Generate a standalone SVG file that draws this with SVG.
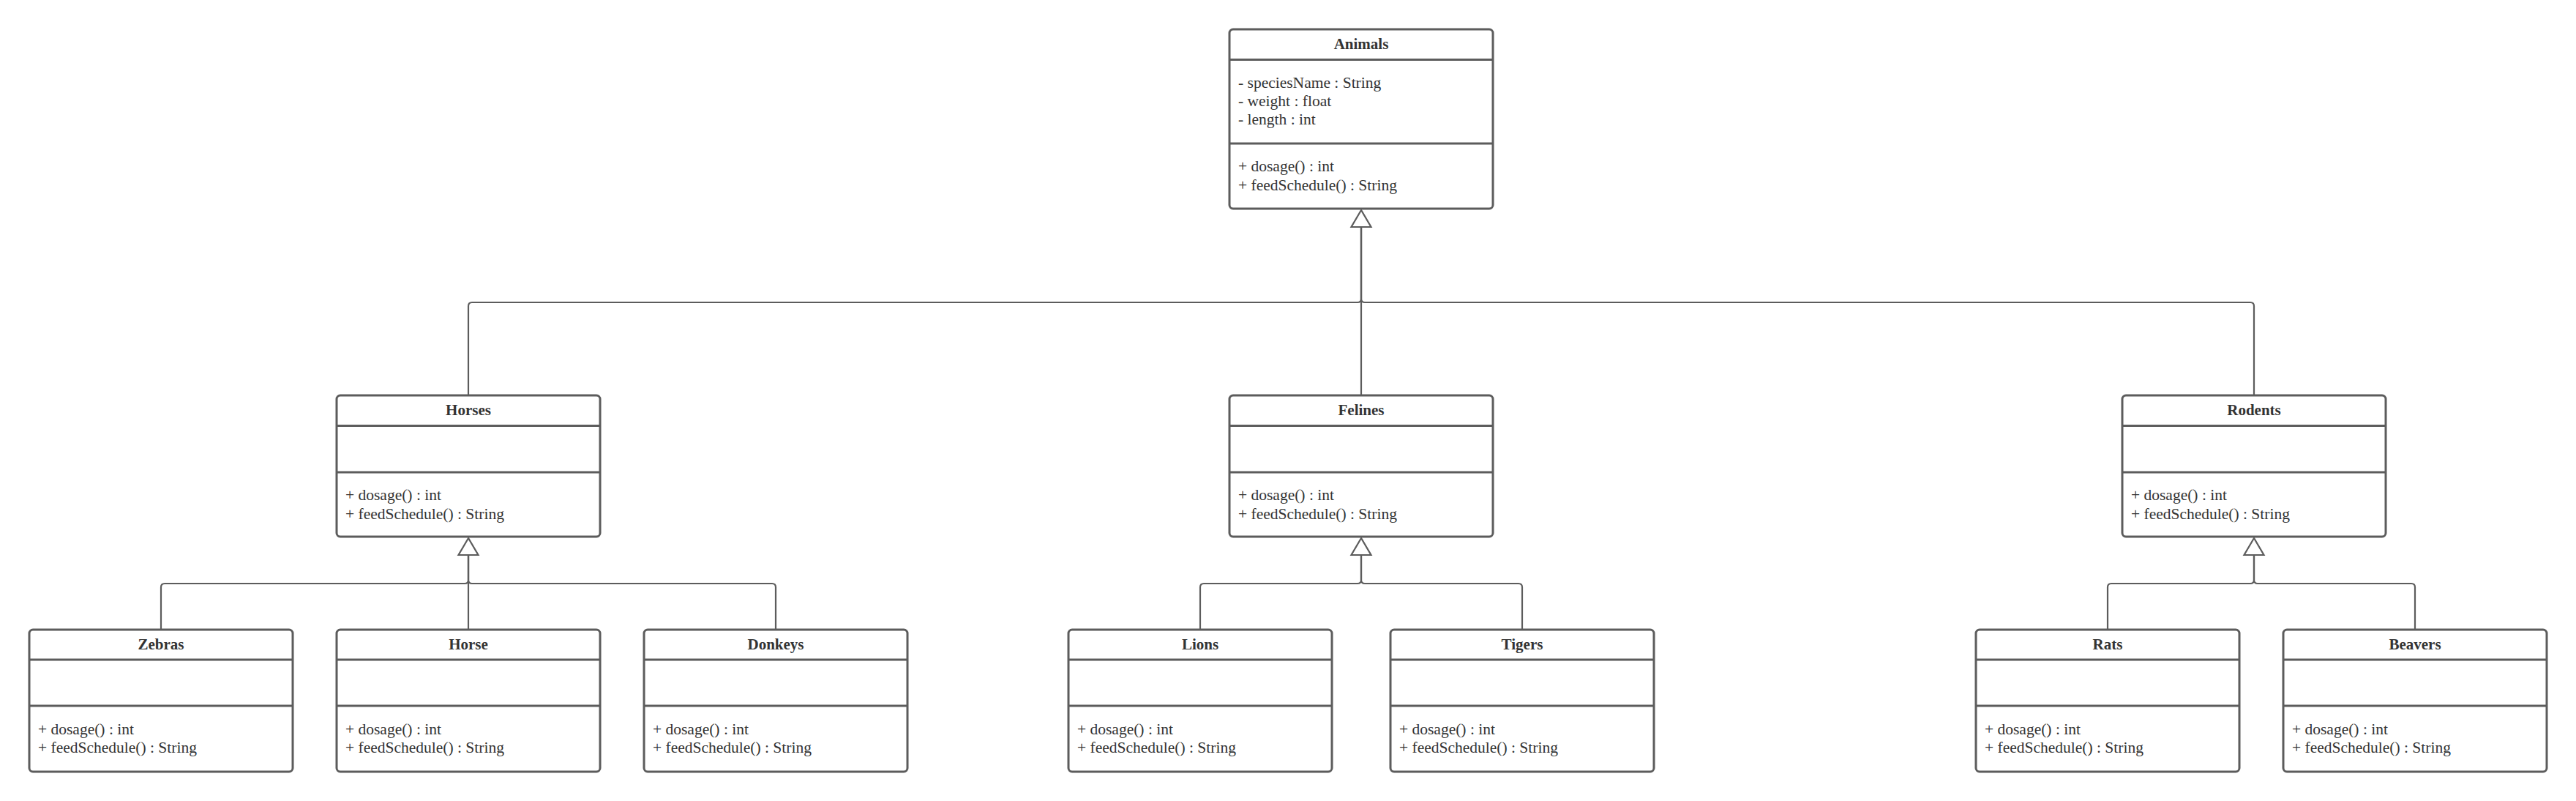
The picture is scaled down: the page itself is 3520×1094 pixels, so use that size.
<svg xmlns="http://www.w3.org/2000/svg" width="3520" height="1094" viewBox="0 0 3520 1094">
<style>
.box{fill:#fff;stroke:#5c5c5c;stroke-width:3}
.div{stroke:#5c5c5c;stroke-width:3}
.t{font-family:"Liberation Serif","DejaVu Serif",serif;font-size:21.5px;fill:#333}
.h{font-family:"Liberation Serif","DejaVu Serif",serif;font-size:21px;font-weight:bold;fill:#333;text-anchor:middle}
.c{fill:none;stroke:#5c5c5c;stroke-width:2.2}
.tri{fill:#fff;stroke:#5c5c5c;stroke-width:2.2;stroke-linejoin:miter}
</style>
<rect width="3520" height="1094" fill="#fff"/>
<g id="connectors">
<path class="c" d="M1860,540 V310"/>
<path class="c" d="M640,540 V418 Q640,413 645,413 H1855 Q1860,413 1860,408 V310"/>
<path class="c" d="M3080,540 V418 Q3080,413 3075,413 H1865 Q1860,413 1860,408 V310"/>
<polygon class="tri" points="1860,287 1846.5,310 1873.5,310"/>
<path class="c" d="M640,860 V758"/>
<path class="c" d="M220,860 V802 Q220,797 225,797 H635 Q640,797 640,792 V758"/>
<path class="c" d="M1060,860 V802 Q1060,797 1055,797 H645 Q640,797 640,792 V758"/>
<polygon class="tri" points="640,735 626.5,758 653.5,758"/>
<path class="c" d="M1640,860 V802 Q1640,797 1645,797 H1855 Q1860,797 1860,792 V758"/>
<path class="c" d="M2080,860 V802 Q2080,797 2075,797 H1865 Q1860,797 1860,792 V758"/>
<polygon class="tri" points="1860,735 1846.5,758 1873.5,758"/>
<path class="c" d="M2880,860 V802 Q2880,797 2885,797 H3075 Q3080,797 3080,792 V758"/>
<path class="c" d="M3300,860 V802 Q3300,797 3295,797 H3085 Q3080,797 3080,792 V758"/>
<polygon class="tri" points="3080,735 3066.5,758 3093.5,758"/>
</g>
<g id="animals">
<rect class="box" x="1680" y="40" width="360" height="245" rx="5"/>
<line class="div" x1="1680" y1="81.5" x2="2040" y2="81.5"/>
<line class="div" x1="1680" y1="196" x2="2040" y2="196"/>
<text class="h" x="1860" y="67">Animals</text>
<text class="t" x="1692" y="120">- speciesName : String</text>
<text class="t" x="1692" y="145">- weight : float</text>
<text class="t" x="1692" y="170">- length : int</text>
<text class="t" x="1692" y="234">+ dosage() : int</text>
<text class="t" x="1692" y="259.5">+ feedSchedule() : String</text>
</g>
<g id="horses">
<rect class="box" x="460" y="540" width="360" height="193" rx="5"/>
<line class="div" x1="460" y1="581.5" x2="820" y2="581.5"/>
<line class="div" x1="460" y1="645" x2="820" y2="645"/>
<text class="h" x="640" y="567">Horses</text>
<text class="t" x="472" y="683">+ dosage() : int</text>
<text class="t" x="472" y="708.5">+ feedSchedule() : String</text>
</g>
<g id="felines">
<rect class="box" x="1680" y="540" width="360" height="193" rx="5"/>
<line class="div" x1="1680" y1="581.5" x2="2040" y2="581.5"/>
<line class="div" x1="1680" y1="645" x2="2040" y2="645"/>
<text class="h" x="1860" y="567">Felines</text>
<text class="t" x="1692" y="683">+ dosage() : int</text>
<text class="t" x="1692" y="708.5">+ feedSchedule() : String</text>
</g>
<g id="rodents">
<rect class="box" x="2900" y="540" width="360" height="193" rx="5"/>
<line class="div" x1="2900" y1="581.5" x2="3260" y2="581.5"/>
<line class="div" x1="2900" y1="645" x2="3260" y2="645"/>
<text class="h" x="3080" y="567">Rodents</text>
<text class="t" x="2912" y="683">+ dosage() : int</text>
<text class="t" x="2912" y="708.5">+ feedSchedule() : String</text>
</g>
<g id="zebras">
<rect class="box" x="40" y="860" width="360" height="194" rx="5"/>
<line class="div" x1="40" y1="901" x2="400" y2="901"/>
<line class="div" x1="40" y1="964" x2="400" y2="964"/>
<text class="h" x="220" y="887">Zebras</text>
<text class="t" x="52" y="1002.5">+ dosage() : int</text>
<text class="t" x="52" y="1028">+ feedSchedule() : String</text>
</g>
<g id="horse">
<rect class="box" x="460" y="860" width="360" height="194" rx="5"/>
<line class="div" x1="460" y1="901" x2="820" y2="901"/>
<line class="div" x1="460" y1="964" x2="820" y2="964"/>
<text class="h" x="640" y="887">Horse</text>
<text class="t" x="472" y="1002.5">+ dosage() : int</text>
<text class="t" x="472" y="1028">+ feedSchedule() : String</text>
</g>
<g id="donkeys">
<rect class="box" x="880" y="860" width="360" height="194" rx="5"/>
<line class="div" x1="880" y1="901" x2="1240" y2="901"/>
<line class="div" x1="880" y1="964" x2="1240" y2="964"/>
<text class="h" x="1060" y="887">Donkeys</text>
<text class="t" x="892" y="1002.5">+ dosage() : int</text>
<text class="t" x="892" y="1028">+ feedSchedule() : String</text>
</g>
<g id="lions">
<rect class="box" x="1460" y="860" width="360" height="194" rx="5"/>
<line class="div" x1="1460" y1="901" x2="1820" y2="901"/>
<line class="div" x1="1460" y1="964" x2="1820" y2="964"/>
<text class="h" x="1640" y="887">Lions</text>
<text class="t" x="1472" y="1002.5">+ dosage() : int</text>
<text class="t" x="1472" y="1028">+ feedSchedule() : String</text>
</g>
<g id="tigers">
<rect class="box" x="1900" y="860" width="360" height="194" rx="5"/>
<line class="div" x1="1900" y1="901" x2="2260" y2="901"/>
<line class="div" x1="1900" y1="964" x2="2260" y2="964"/>
<text class="h" x="2080" y="887">Tigers</text>
<text class="t" x="1912" y="1002.5">+ dosage() : int</text>
<text class="t" x="1912" y="1028">+ feedSchedule() : String</text>
</g>
<g id="rats">
<rect class="box" x="2700" y="860" width="360" height="194" rx="5"/>
<line class="div" x1="2700" y1="901" x2="3060" y2="901"/>
<line class="div" x1="2700" y1="964" x2="3060" y2="964"/>
<text class="h" x="2880" y="887">Rats</text>
<text class="t" x="2712" y="1002.5">+ dosage() : int</text>
<text class="t" x="2712" y="1028">+ feedSchedule() : String</text>
</g>
<g id="beavers">
<rect class="box" x="3120" y="860" width="360" height="194" rx="5"/>
<line class="div" x1="3120" y1="901" x2="3480" y2="901"/>
<line class="div" x1="3120" y1="964" x2="3480" y2="964"/>
<text class="h" x="3300" y="887">Beavers</text>
<text class="t" x="3132" y="1002.5">+ dosage() : int</text>
<text class="t" x="3132" y="1028">+ feedSchedule() : String</text>
</g>
</svg>
